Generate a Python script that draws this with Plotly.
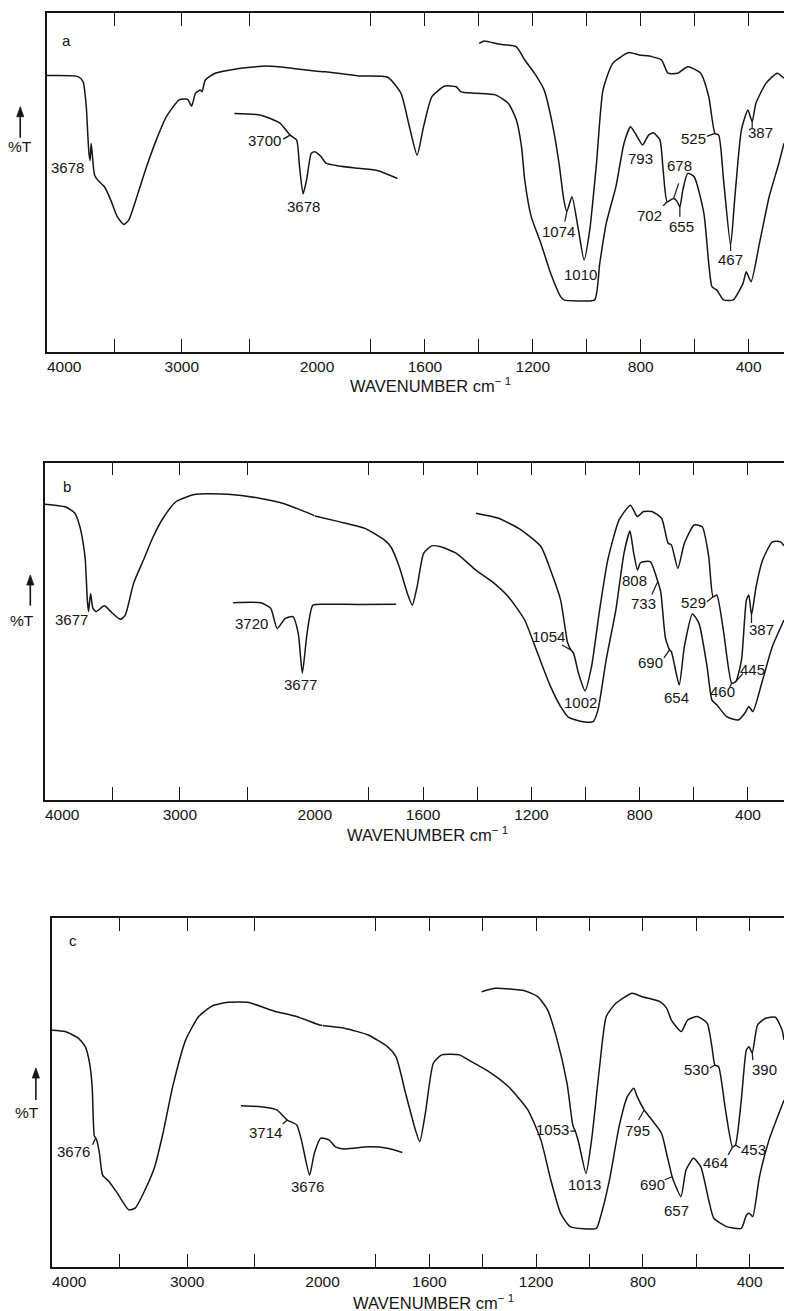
import numpy as np
import plotly.graph_objects as go

# ---------------------------------------------------------------------------
# Infrared transmission spectra (%T vs wavenumber, cm-1) of three samples.
# "main" = full-range trace, "thin" = thinner film for 1400-250 cm-1,
# "inset" = expanded OH-stretching region (3800-3500 cm-1).
# ---------------------------------------------------------------------------

# ----- spectrum a -----
A_MAIN_WN = [4000, 3766, 3730, 3706, 3694, 3686, 3678, 3670, 3662, 3645, 3621, 3573,
             3525, 3477, 3428, 3392, 3332, 3260, 3188, 3115, 3019, 2958, 2927, 2898,
             2862, 2850, 2826, 2754, 2609, 2369, 2176, 2000, 1967, 1846, 1738, 1689,
             1659, 1629, 1605, 1574, 1526, 1484, 1466, 1411, 1339, 1291, 1261, 1242,
             1230, 1206, 1170, 1134, 1097, 1085, 1030, 971, 952, 928, 892, 862, 838,
             820, 793, 771, 753, 729, 717, 702, 678, 666, 655, 644, 626, 602, 566,
             548, 536, 518, 493, 457, 421, 409, 391, 360, 324, 288, 269]
A_MAIN_T = [81.6, 81.3, 79.8, 72.4, 63.5, 58.5, 56.5, 61.5, 58.5, 52.2, 50.7, 48.8,
            44.8, 39.9, 37.6, 38.9, 45.8, 54.7, 62.6, 69.4, 74.4, 74.6, 72.6, 76.4,
            77.3, 76.8, 80.3, 82.3, 83.5, 84.4, 83.7, 82.9, 82.7, 81.5, 81.1, 76.4,
            67.0, 58.1, 66.5, 75.4, 78.5, 78.3, 76.8, 76.4, 75.9, 73.4, 68.5, 60.6,
            50.7, 39.9, 32.0, 23.2, 16.3, 15.3, 15.0, 15.3, 26.1, 37.9, 48.8, 61.6, 66.5,
            64.5, 61.1, 64.0, 64.7, 62.6, 53.7, 44.3, 45.3, 44.5, 42.8, 47.8, 52.7, 51.7, 40.9,
            26.1, 19.2, 18.2, 15.3, 15.3, 20.2, 23.6, 20.7, 32.0, 45.8, 55.7, 61.6]
A_THIN_WN = [1399, 1381, 1327, 1261, 1230, 1194, 1158, 1128, 1103, 1085, 1074, 1055,
             1031, 1010, 989, 964, 940, 904, 844, 807, 759, 723, 699, 663, 626, 578,
             548, 525, 511, 493, 467, 451, 427, 403, 387, 373, 336, 294, 269]
A_THIN_T = [91.1, 91.8, 90.9, 90.1, 86.2, 82.3, 77.3, 67.5, 55.7, 44.8, 41.4, 45.8,
            36.0, 27.1, 36.0, 55.7, 77.3, 85.2, 88.4, 87.7, 87.2, 86.2, 82.3, 82.3, 84.2,
            82.3, 75.4, 64.5, 64.0, 50.7, 31.5, 45.8, 65.5, 71.4, 68.0, 73.4, 79.3, 82.3, 80.8]
A_INSET_WN = [3795, 3750, 3717, 3700, 3689, 3684, 3678, 3672, 3664, 3658, 3647, 3639,
              3617, 3583, 3550, 3517]
A_INSET_T = [70.4, 69.9, 67.5, 64.0, 62.6, 54.7, 46.6, 50.7, 58.6, 59.1, 57.6, 55.7,
             54.9, 54.2, 53.5, 51.2]
A_PEAKS = [("main", 3678), ("inset", 3700), ("inset", 3678), ("thin", 1074), ("thin", 1010),
           ("main", 793), ("main", 678), ("main", 702), ("main", 655), ("thin", 525),
           ("thin", 467), ("thin", 387)]

# ----- spectrum b -----
B_MAIN_WN = [4000, 3850, 3778, 3741, 3717, 3701, 3686, 3677, 3662, 3645, 3621, 3560,
             3500, 3440, 3404, 3343, 3270, 3198, 3125, 3029, 2884, 2643, 2401, 2232,
             2015, 2000, 1911, 1815, 1742, 1718, 1688, 1658, 1640, 1622, 1598, 1568,
             1538, 1477, 1405, 1345, 1285, 1225, 1177, 1129, 1092, 1062, 1008, 972, 954,
             924, 888, 858, 836, 822, 808, 797, 761, 733, 722, 705, 690, 683, 654, 635,
             605, 581, 551, 533, 515, 479, 436, 412, 397, 382, 346, 310, 267]
B_MAIN_T = [87.7, 86.9, 85.0, 81.0, 76.1, 71.1, 59.2, 55.8, 61.2, 56.8, 55.8, 57.5,
            55.3, 53.5, 54.8, 64.2, 71.1, 78.0, 83.5, 88.4, 90.6, 90.6, 89.4, 87.9,
            84.5, 84.2, 82.5, 80.5, 77.0, 74.9, 69.1, 61.2, 57.7, 63.2, 73.1, 75.3,
            75.1, 73.1, 68.1, 64.7, 60.2, 53.3, 43.4, 33.5, 27.6, 24.4, 23.1, 23.1, 26.6,
            41.4, 56.3, 73.1, 79.7, 73.1, 68.1, 70.3, 70.6, 64.7, 61.5, 48.0, 44.4, 43.9, 34.0, 45.4,
            55.1, 52.3, 39.4, 29.5, 28.1, 24.6, 23.6, 25.6, 27.6, 26.1, 35.5, 45.4, 53.3]
B_THIN_WN = [1405, 1321, 1237, 1165, 1129, 1092, 1066, 1054, 1044, 1026, 1002, 978, 948,
             918, 876, 834, 809, 786, 755, 719, 695, 683, 659, 635, 599, 569, 545, 529,
             515, 491, 460, 445, 424, 406, 397, 387, 370, 346, 310, 280, 267]
B_THIN_T = [85.0, 83.5, 80.0, 75.1, 68.1, 59.2, 46.5, 44.4, 43.4, 37.5, 32.3, 39.4, 56.3,
            71.1, 83.0, 87.4, 84.0, 85.5, 85.5, 83.5, 76.1, 75.6, 68.6, 76.1, 81.5, 81.0,
            72.1, 60.2, 60.7, 50.3, 34.5, 35.0, 41.4, 59.2, 60.7, 54.8, 63.2, 71.1, 76.5,
            76.5, 75.3]
B_INSET_WN = [3795, 3748, 3731, 3720, 3706, 3693, 3684, 3677, 3669, 3659, 3637, 3581, 3517]
B_INSET_T = [58.4, 58.4, 56.8, 50.8, 53.8, 54.3, 49.3, 37.5, 49.3, 57.7, 58.0, 57.9, 58.0]
B_PEAKS = [("main", 3677), ("inset", 3720), ("inset", 3677), ("thin", 1054), ("thin", 1002),
           ("main", 808), ("main", 733), ("main", 690), ("main", 654), ("thin", 529),
           ("thin", 460), ("thin", 445), ("thin", 387)]

# ----- spectrum c -----
C_MAIN_WN = [4000, 3901, 3805, 3752, 3721, 3702, 3686, 3676, 3666, 3648, 3625, 3576,
             3516, 3432, 3384, 3312, 3240, 3179, 3107, 3011, 2915, 2818, 2698, 2554,
             2361, 2193, 2024, 2000, 1915, 1829, 1756, 1725, 1689, 1652, 1636, 1615,
             1585, 1554, 1487, 1457, 1377, 1304, 1231, 1182, 1145, 1108, 1072, 974, 962,
             925, 889, 858, 834, 821, 795, 766, 730, 711, 690, 681, 657, 638, 610, 583,
             553, 534, 486, 431, 412, 400, 388, 363, 327, 271]
C_MAIN_T = [67.9, 67.5, 65.6, 63.1, 58.4, 51.7, 37.5, 37.0, 36.0, 32.5, 26.3, 24.4,
            21.1, 16.3, 16.8, 22.0, 28.7, 38.3, 51.7, 65.1, 71.8, 74.8, 75.9, 75.9,
            73.4, 71.8, 69.4, 69.2, 68.4, 66.5, 63.1, 60.3, 49.8, 39.2, 35.9, 44.0,
            58.4, 60.8, 60.8, 59.5, 56.0, 51.7, 45.0, 36.4, 24.9, 15.3, 11.5, 11.0, 13.4,
            24.9, 40.2, 48.8, 51.2, 48.8, 45.0, 42.1, 38.3, 32.5, 25.8, 23.9, 20.1, 27.8,
            31.1, 28.7, 19.1, 13.9, 11.5, 11.0, 14.8, 15.3, 14.4, 25.8, 36.4, 47.8]
C_THIN_WN = [1404, 1353, 1243, 1194, 1157, 1121, 1084, 1062, 1053, 1040, 1013, 992, 962,
             937, 901, 840, 803, 736, 711, 693, 656, 632, 596, 559, 541, 530, 516, 492,
             464, 453, 431, 412, 402, 390, 370, 340, 303, 278, 271]
C_THIN_T = [78.9, 79.9, 79.2, 77.5, 73.7, 65.1, 52.6, 40.5, 38.9, 35.5, 26.8, 36.4, 57.4,
            71.8, 75.6, 78.5, 77.5, 76.1, 74.2, 70.8, 67.5, 70.8, 71.8, 69.9, 63.1, 57.9,
            57.4, 45.9, 34.4, 34.9, 47.8, 62.2, 63.1, 61.3, 69.4, 71.3, 71.6, 67.9, 65.1]
C_INSET_WN = [3793, 3759, 3732, 3714, 3698, 3690, 3676, 3668, 3657, 3643, 3632, 3615,
              3576, 3543, 3518]
C_INSET_T = [46.2, 45.9, 45.0, 42.1, 40.7, 36.4, 26.3, 32.5, 36.9, 36.4, 34.4, 33.8,
             34.4, 34.0, 32.8]
C_PEAKS = [("main", 3676), ("inset", 3714), ("inset", 3676), ("thin", 1053), ("thin", 1013),
           ("main", 795), ("main", 690), ("main", 657), ("thin", 530), ("thin", 464),
           ("thin", 453), ("thin", 390)]

# Axis ticks: 4000-2000 cm-1 at one scale, 2000-400 cm-1 expanded x2
HIGH_LABELED = [3000, 2000]
HIGH_PLAIN = [3500, 2500]
LOW_LABELED = [1600, 1200, 800, 400]
LOW_PLAIN = [1800, 1400, 1000, 600]
INSET_RANGE = [3800, 3500]

# ---------------------------------------------------------------------------
# Page geometry (pixels) and label placement
# ---------------------------------------------------------------------------
W, H = 802, 1311
FONT = "Liberation Sans, Arial, Helvetica, sans-serif"
INK = "#151515"

GEOM = {
    "a": dict(left=47.6, brk=324.3, top=13.3, bottom=351.7, wn_end=269,
              inset=(236.8, 416.8), letter=(68, 40.7), pct=(20.7, 146.7),
              arrow=(20.7, 106.7, 137.7), title=(440, 385)),
    "b": dict(left=46.0, brk=322.0, top=462.7, bottom=799.5, wn_end=267,
              inset=(235.5, 415.5), letter=(68.3, 486), pct=(22.5, 621),
              arrow=(31.0, 575, 605.7), title=(437, 834)),
    "c": dict(left=53.0, brk=330.0, top=918.3, bottom=1266.7, wn_end=271,
              inset=(242.3, 422.3), letter=(75, 940), pct=(28, 1112.7),
              arrow=(36.7, 1068, 1100), title=(443, 1302)),
}

# (text dx, text dy, leader end dx/dy or None) in screen pixels, dy downward
LABEL_PLACE = {
    "a": [(-23, 7, None), (-26, 5, (-7, 4)), (0, 12, None), (-8, 20, (-2, 10)),
          (-4, 15, None), (-2, 14, None), (6, -33, (5, -15)), (-18, 14, (-4, 4)),
          (1.5, 20, (0, 10)), (-21, 5, (-8, 3)), (0, 14, (0, 6)), (8, 11, (0, 7))],
    "b": [(-17, 8.4, None), (-26, -5, None), (-1.5, 10.8, None), (-22.3, -13.3, (-9, -5)),
          (-4.2, 12, None), (-3.2, 10, None), (-14.2, 21.7, (-6, 13)),
          (-18.5, 12.3, (-5.5, 8)), (-2.6, 12.3, None), (-19.4, 6, (-6, 5)),
          (-9.3, 8.4, (-2, 4)), (17.1, -12.3, (7, -8)), (10, 14.4, (0, 8))],
    "c": [(-22.1, 13.9, (-3, 7)), (-22.2, 12.7, (-4.6, 4)), (-2, 11.7, None),
          (-22.5, -1.2, (-5, 0)), (-1.7, 10.7, None), (-6.7, 20.1, (-5.6, 10)),
          (-20, 7.2, (-7.5, 3)), (-4.3, 14, None), (-18.2, 4.3, (-5, 3)),
          (-17, 15.8, (-4.2, 8)), (17.8, 4.2, (5, 3)), (12.3, 16.2, (0.6, 7))],
}

SPECTRA = {
    "a": dict(main=(A_MAIN_WN, A_MAIN_T), thin=(A_THIN_WN, A_THIN_T),
              inset=(A_INSET_WN, A_INSET_T), peaks=A_PEAKS),
    "b": dict(main=(B_MAIN_WN, B_MAIN_T), thin=(B_THIN_WN, B_THIN_T),
              inset=(B_INSET_WN, B_INSET_T), peaks=B_PEAKS),
    "c": dict(main=(C_MAIN_WN, C_MAIN_T), thin=(C_THIN_WN, C_THIN_T),
              inset=(C_INSET_WN, C_INSET_T), peaks=C_PEAKS),
}


def fx(px):
    return px / W


def fy(py):
    return 1 - py / H


def ax_id(letter, n):
    return letter if n == 1 else f"{letter}{n}"


def ax_key(letter, n):
    return f"{letter}axis" if n == 1 else f"{letter}axis{n}"


LINE = dict(color=INK, width=1.5, shape="spline", smoothing=0.55)
TXT = dict(family=FONT, size=15, color=INK)
TICK_TXT = dict(family=FONT, size=15.5, color=INK)
TITLE_TXT = dict(family=FONT, size=16.5, color=INK)

fig = go.Figure()
layout_axes = {}
annotations = []
shapes = []

frame_axis = dict(showline=True, linecolor=INK, linewidth=1.5, mirror="ticks",
                  ticks="inside", ticklen=13, tickwidth=1.4, tickcolor=INK,
                  showgrid=False, zeroline=False, fixedrange=True, tickfont=TICK_TXT,
                  tickmode="array")


def minor_ticks(vals):
    return dict(tickmode="array", tickvals=vals, ticks="inside", ticklen=13,
                tickwidth=1.4, tickcolor=INK, showgrid=False)


def paper_text(px, py, text, font=TXT, anchor="center"):
    return dict(x=fx(px), y=fy(py), xref="paper", yref="paper", text=text,
                showarrow=False, xanchor=anchor, yanchor="middle", font=font)


for i, key in enumerate(["a", "b", "c"]):
    g = GEOM[key]
    s = SPECTRA[key]
    n_hi, n_lo, n_in = 3 * i + 1, 3 * i + 2, 3 * i + 3
    xh, xl, xi = ax_id("x", n_hi), ax_id("x", n_lo), ax_id("x", n_in)
    yy = ax_id("y", i + 1)

    layout_axes[ax_key("x", n_hi)] = dict(
        frame_axis, domain=[fx(g["left"]), fx(g["brk"])], range=[4000, 2000],
        anchor=yy, tickvals=HIGH_LABELED, ticktext=[str(v) for v in HIGH_LABELED],
        minor=minor_ticks(HIGH_PLAIN))
    layout_axes[ax_key("x", n_lo)] = dict(
        frame_axis, domain=[fx(g["brk"]), 1.0], range=[2000, g["wn_end"]],
        anchor=yy, tickvals=LOW_LABELED, ticktext=[str(v) for v in LOW_LABELED],
        minor=minor_ticks(LOW_PLAIN))
    layout_axes[ax_key("x", n_in)] = dict(
        domain=[fx(g["inset"][0]), fx(g["inset"][1])], range=INSET_RANGE,
        anchor=yy, visible=False, fixedrange=True)
    layout_axes[ax_key("y", i + 1)] = dict(
        domain=[fy(g["bottom"]), fy(g["top"])], range=[0, 100], anchor=xh,
        showline=True, linecolor=INK, linewidth=1.5, ticks="", showticklabels=False,
        showgrid=False, zeroline=False, fixedrange=True)

    # full-range trace, split at the scale change
    mwn = np.asarray(s["main"][0], dtype=float)
    mt = np.asarray(s["main"][1], dtype=float)
    hi = mwn >= 2000
    lo = mwn <= 2000
    fig.add_trace(go.Scatter(x=mwn[hi], y=mt[hi], xaxis=xh, yaxis=yy, mode="lines",
                             line=LINE, hoverinfo="skip"))
    fig.add_trace(go.Scatter(x=mwn[lo], y=mt[lo], xaxis=xl, yaxis=yy, mode="lines",
                             line=LINE, hoverinfo="skip"))
    # thin-film trace
    fig.add_trace(go.Scatter(x=s["thin"][0], y=s["thin"][1], xaxis=xl, yaxis=yy,
                             mode="lines", line=LINE, hoverinfo="skip"))
    # expanded OH region
    fig.add_trace(go.Scatter(x=s["inset"][0], y=s["inset"][1], xaxis=xi, yaxis=yy,
                             mode="lines", line=LINE, hoverinfo="skip"))

    # peak labels
    for (curve, wn), (dx, dy, lead) in zip(s["peaks"], LABEL_PLACE[key]):
        cwn, ct = s[curve]
        tval = float(np.interp(wn, np.asarray(cwn)[::-1], np.asarray(ct)[::-1]))
        if curve == "inset":
            xr = xi
        elif curve == "main" and wn >= 2000:
            xr = xh
        else:
            xr = xl
        annotations.append(dict(x=wn, y=tval, xref=xr, yref=yy, text=str(wn),
                                showarrow=False, xshift=dx, yshift=-dy,
                                xanchor="center", yanchor="middle", font=TXT))
        if lead is not None:
            shapes.append(dict(type="line", xref=xr, yref=yy,
                               xsizemode="pixel", xanchor=wn, x0=0, x1=lead[0],
                               ysizemode="pixel", yanchor=tval, y0=0, y1=-lead[1],
                               line=dict(color=INK, width=1.2)))

    # 4000 label sits inside the frame edge
    annotations.append(dict(x=4000, y=fy(g["bottom"] + 15), xref=xh, yref="paper",
                            text="4000", showarrow=False, xanchor="left",
                            yanchor="middle", xshift=-2, font=TICK_TXT))
    annotations.append(paper_text(*g["title"], "WAVENUMBER cm<sup>\u2212 1</sup>",
                                  font=TITLE_TXT))
    annotations.append(paper_text(*g["letter"], key))
    annotations.append(paper_text(*g["pct"], "%T", font=TICK_TXT))

    # upward arrow above %T
    ax_x, tip_y, tail_y = g["arrow"]
    shapes.append(dict(type="line", xref="paper", yref="paper",
                       x0=fx(ax_x), x1=fx(ax_x), y0=fy(tail_y), y1=fy(tip_y + 6),
                       line=dict(color=INK, width=1.6)))
    shapes.append(dict(type="path", xref="paper", yref="paper",
                       path=(f"M {fx(ax_x - 3.6)},{fy(tip_y + 10)} "
                             f"L {fx(ax_x)},{fy(tip_y)} "
                             f"L {fx(ax_x + 3.6)},{fy(tip_y + 10)} Z"),
                       fillcolor=INK, line=dict(color=INK, width=0.8)))

fig.update_layout(
    width=W, height=H, margin=dict(l=0, r=0, t=0, b=0),
    paper_bgcolor="white", plot_bgcolor="rgba(0,0,0,0)", showlegend=False,
    font=TXT, annotations=annotations, shapes=shapes, **layout_axes)

fig.write_html("out.html")
